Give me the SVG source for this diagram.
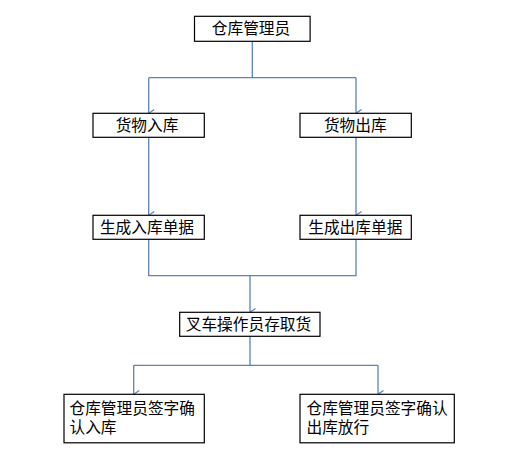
<svg xmlns="http://www.w3.org/2000/svg" width="525" height="460" viewBox="0 0 525 460">
<style>
.box{fill:#fff;stroke:#000;stroke-width:1.2}
.t{font-family:"Noto Sans CJK SC","Noto Sans",sans-serif;font-size:15.7px;fill:#000}
.c{text-anchor:middle}
.ln{fill:none;stroke:#5e82b6;stroke-width:1.3}
</style>
<defs>
<marker id="ar" viewBox="0 0 8 6" refX="4" refY="6" markerWidth="8" markerHeight="6" markerUnits="userSpaceOnUse" orient="auto-start-reverse">
<path d="M0.5,0.5 L4,5.5 L7.5,0.5" fill="none" stroke="#5e82b6" stroke-width="1.2"/>
</marker>
</defs>
<rect width="525" height="460" fill="#fff"/>
<g id="connectors">
<path class="ln" d="M252.3,41 V77.7 M148.7,77.7 H356"/>
<path class="ln" d="M148.7,77.7 V113" marker-end="url(#ar)"/>
<path class="ln" d="M356,77.7 V113" marker-end="url(#ar)"/>
<path class="ln" d="M148.7,137.3 V215" marker-end="url(#ar)"/>
<path class="ln" d="M356,137.3 V215" marker-end="url(#ar)"/>
<path class="ln" d="M148.7,239.3 V275.7 H356 V239.3"/>
<path class="ln" d="M250,275.7 V312" marker-end="url(#ar)"/>
<path class="ln" d="M250,336.3 V365.3 M133.7,365.3 H378"/>
<path class="ln" d="M133.7,365.3 V394" marker-end="url(#ar)"/>
<path class="ln" d="M378,365.3 V394" marker-end="url(#ar)"/>
</g>
<g id="n1"><rect class="box" x="194.5" y="16.3" width="115.6" height="25"/><text class="t c" x="251" y="34.3">仓库管理员</text></g>
<g id="n2"><rect class="box" x="93" y="113.3" width="111.3" height="24"/><text class="t c" x="147" y="130.8">货物入库</text></g>
<g id="n3"><rect class="box" x="300" y="113.3" width="111.3" height="24"/><text class="t c" x="355.3" y="130.8">货物出库</text></g>
<g id="n4"><rect class="box" x="93" y="215.3" width="111.3" height="24"/><text class="t c" x="147" y="232.8">生成入库单据</text></g>
<g id="n5"><rect class="box" x="300" y="215.3" width="111.3" height="24"/><text class="t c" x="355.3" y="232.8">生成出库单据</text></g>
<g id="n6"><rect class="box" x="179.7" y="312.3" width="140.3" height="24"/><text class="t c" x="248.5" y="329.8">叉车操作员存取货</text></g>
<g id="n7"><rect class="box" x="64" y="394.3" width="140.3" height="48.5"/><text class="t" x="69.5" y="414">仓库管理员签字确<tspan x="69.5" dy="19">认入库</tspan></text></g>
<g id="n8"><rect class="box" x="300" y="394.3" width="154.3" height="48.5"/><text class="t" x="306.5" y="414">仓库管理员签字确认<tspan x="306.5" dy="19">出库放行</tspan></text></g>
</svg>
